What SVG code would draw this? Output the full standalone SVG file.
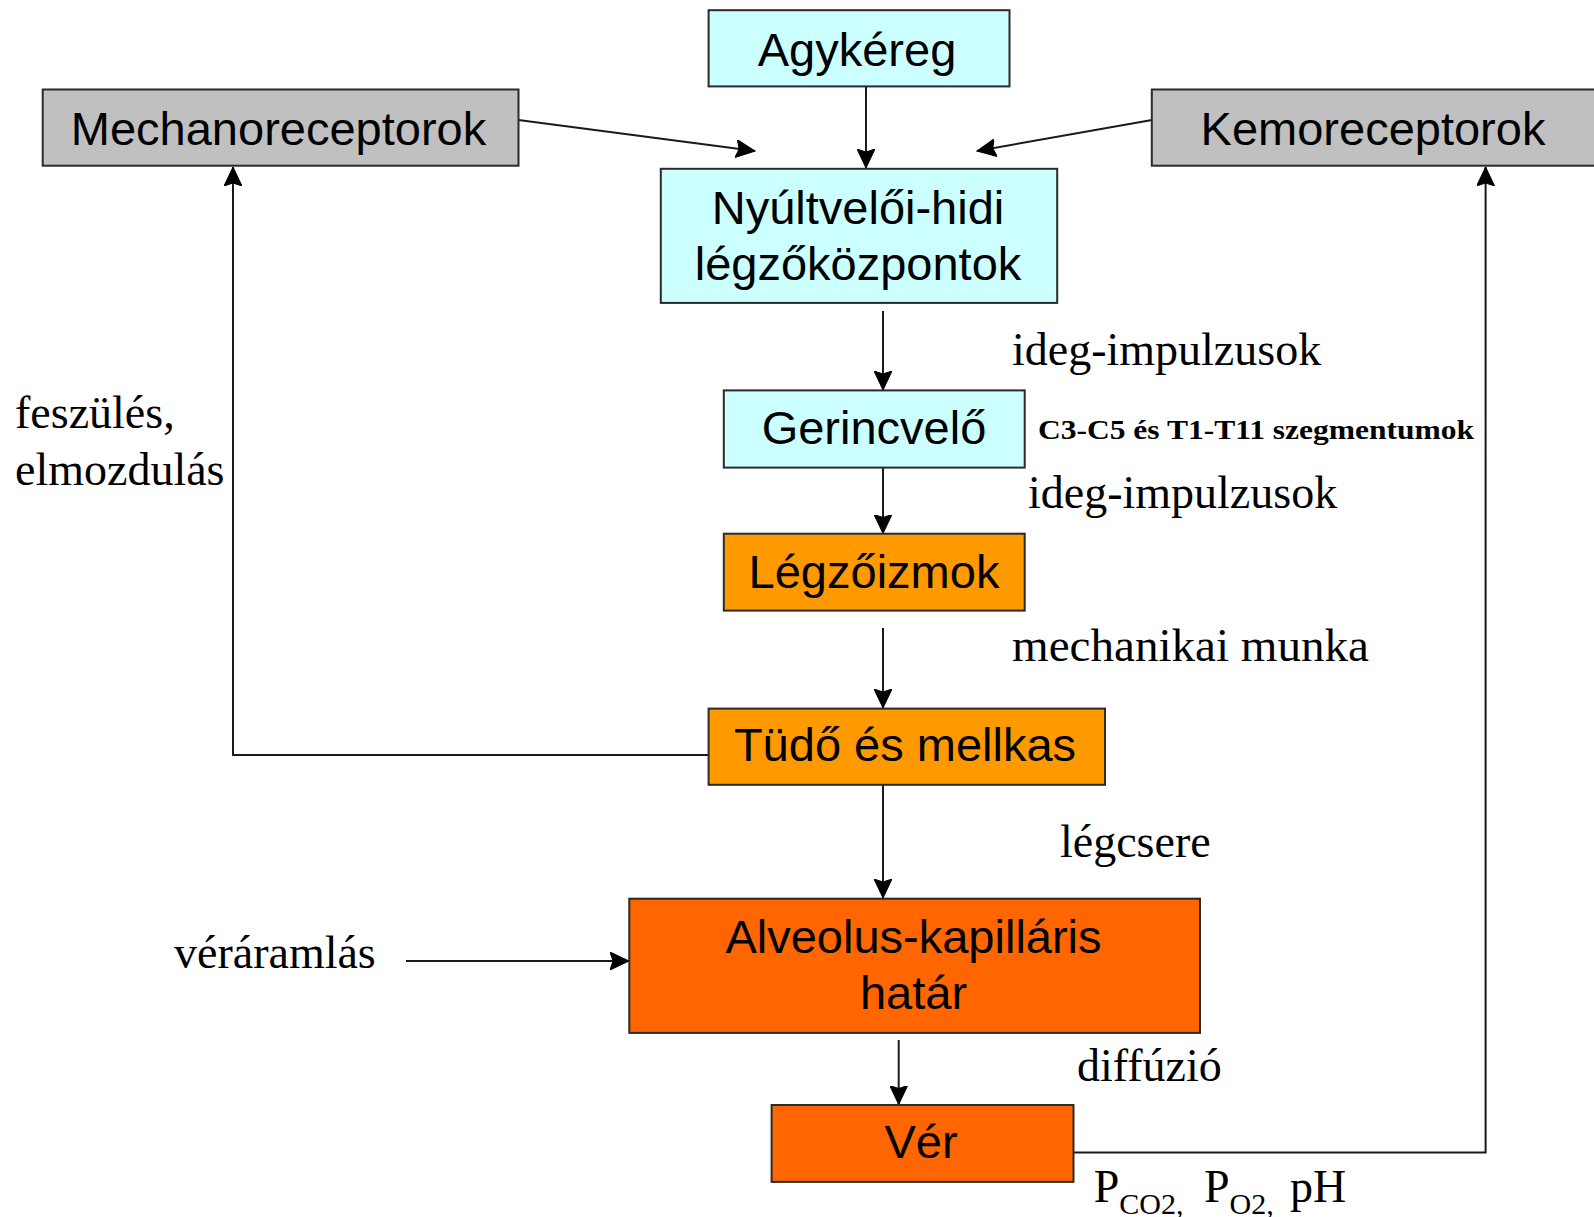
<svg xmlns="http://www.w3.org/2000/svg" width="1594" height="1217" viewBox="0 0 1594 1217">
<style>
.box{stroke:#2a2a2a;stroke-width:2}
.cyan{fill:#CCFFFF}
.gray{fill:#C0C0C0}
.orange{fill:#FF9900}
.dorange{fill:#FF6600}
.lbl{font-family:"Liberation Sans",Arial,sans-serif;font-size:47px;fill:#000;text-anchor:middle}
.ser{font-family:"Liberation Serif","Times New Roman",serif;font-size:46px;fill:#000}
.small{font-size:27px;font-weight:bold}
.sub{font-size:30px}
.conn{stroke:#1a1a1a;stroke-width:2;fill:none}
</style>
<defs>
<marker id="ah" markerUnits="userSpaceOnUse" markerWidth="20" markerHeight="18" refX="19" refY="9" orient="auto" viewBox="0 0 20 18">
<path d="M0,0 L19,9 L0,18 L3,9 z" fill="#000" stroke="#000" stroke-width="1" stroke-linejoin="miter"/>
</marker>
</defs>
<rect width="1594" height="1217" fill="#fff"/>

<g id="connectors">
<line class="conn" x1="866" y1="86" x2="866" y2="168" marker-end="url(#ah)"/>
<line class="conn" x1="518.5" y1="120" x2="755" y2="151" marker-end="url(#ah)"/>
<line class="conn" x1="1152" y1="120" x2="977" y2="151" marker-end="url(#ah)"/>
<line class="conn" x1="883" y1="311" x2="883" y2="390" marker-end="url(#ah)"/>
<line class="conn" x1="883" y1="468" x2="883" y2="533.5" marker-end="url(#ah)"/>
<line class="conn" x1="883" y1="628" x2="883" y2="708" marker-end="url(#ah)"/>
<line class="conn" x1="883" y1="785" x2="883" y2="898" marker-end="url(#ah)"/>
<line class="conn" x1="898.7" y1="1040" x2="898.7" y2="1104.5" marker-end="url(#ah)"/>
<line class="conn" x1="406" y1="961" x2="629" y2="961" marker-end="url(#ah)"/>
<polyline class="conn" points="708.6,755 233,755 233,167" marker-end="url(#ah)"/>
<polyline class="conn" points="1073.5,1152.5 1485.6,1152.5 1485.6,167" marker-end="url(#ah)"/>
</g>

<g id="agykereg">
<rect class="box cyan" x="708.6" y="10.2" width="300.9" height="76.2"/>
<text class="lbl" x="857" y="66">Agykéreg</text>
</g>
<g id="mechanoreceptorok">
<rect class="box gray" x="42.7" y="89.5" width="475.8" height="76.2"/>
<text class="lbl" x="278.5" y="145">Mechanoreceptorok</text>
</g>
<g id="kemoreceptorok">
<rect class="box gray" x="1151.8" y="89.5" width="460" height="76.2"/>
<text class="lbl" x="1373" y="145">Kemoreceptorok</text>
</g>
<g id="nyultveloi">
<rect class="box cyan" x="660.8" y="168.8" width="396.4" height="134.1"/>
<text class="lbl" x="858" y="223.5">Nyúltvelői-hidi</text>
<text class="lbl" x="858" y="280">légzőközpontok</text>
</g>
<g id="gerincvelo">
<rect class="box cyan" x="723.8" y="390.4" width="300.9" height="77.2"/>
<text class="lbl" x="874" y="444">Gerincvelő</text>
</g>
<g id="legzoizmok">
<rect class="box orange" x="723.8" y="533.7" width="300.9" height="76.9"/>
<text class="lbl" x="874" y="588">Légzőizmok</text>
</g>
<g id="tudo">
<rect class="box orange" x="708.6" y="708.6" width="396.4" height="76.2"/>
<text class="lbl" x="905" y="761">Tüdő és mellkas</text>
</g>
<g id="alveolus">
<rect class="box dorange" x="629.3" y="898.7" width="570.7" height="134.2"/>
<text class="lbl" x="913.5" y="952.7">Alveolus-kapilláris</text>
<text class="lbl" x="913.5" y="1009.4">határ</text>
</g>
<g id="ver">
<rect class="box dorange" x="771.6" y="1105" width="301.9" height="76.9"/>
<text class="lbl" x="921" y="1158">Vér</text>
</g>

<g id="labels">
<text class="ser" x="1012" y="364.5">ideg-impulzusok</text>
<text class="ser small" x="1038" y="438.5" textLength="436" lengthAdjust="spacingAndGlyphs">C3-C5 és T1-T11 szegmentumok</text>
<text class="ser" x="1028" y="508">ideg-impulzusok</text>
<text class="ser" x="1012" y="660.5" textLength="357" lengthAdjust="spacingAndGlyphs">mechanikai munka</text>
<text class="ser" x="1060" y="856.7">légcsere</text>
<text class="ser" x="1077" y="1080.7">diffúzió</text>
<text class="ser" x="174" y="968.3">véráramlás</text>
<text class="ser" x="15" y="428">feszülés,</text>
<text class="ser" x="15" y="485">elmozdulás</text>
<text class="ser" x="1093.7" y="1201.7">P<tspan class="sub" dy="12">CO2,</tspan><tspan x="1204" dy="-12">P</tspan><tspan class="sub" dy="12">O2,</tspan><tspan x="1290" dy="-12">pH</tspan></text>
</g>
</svg>
